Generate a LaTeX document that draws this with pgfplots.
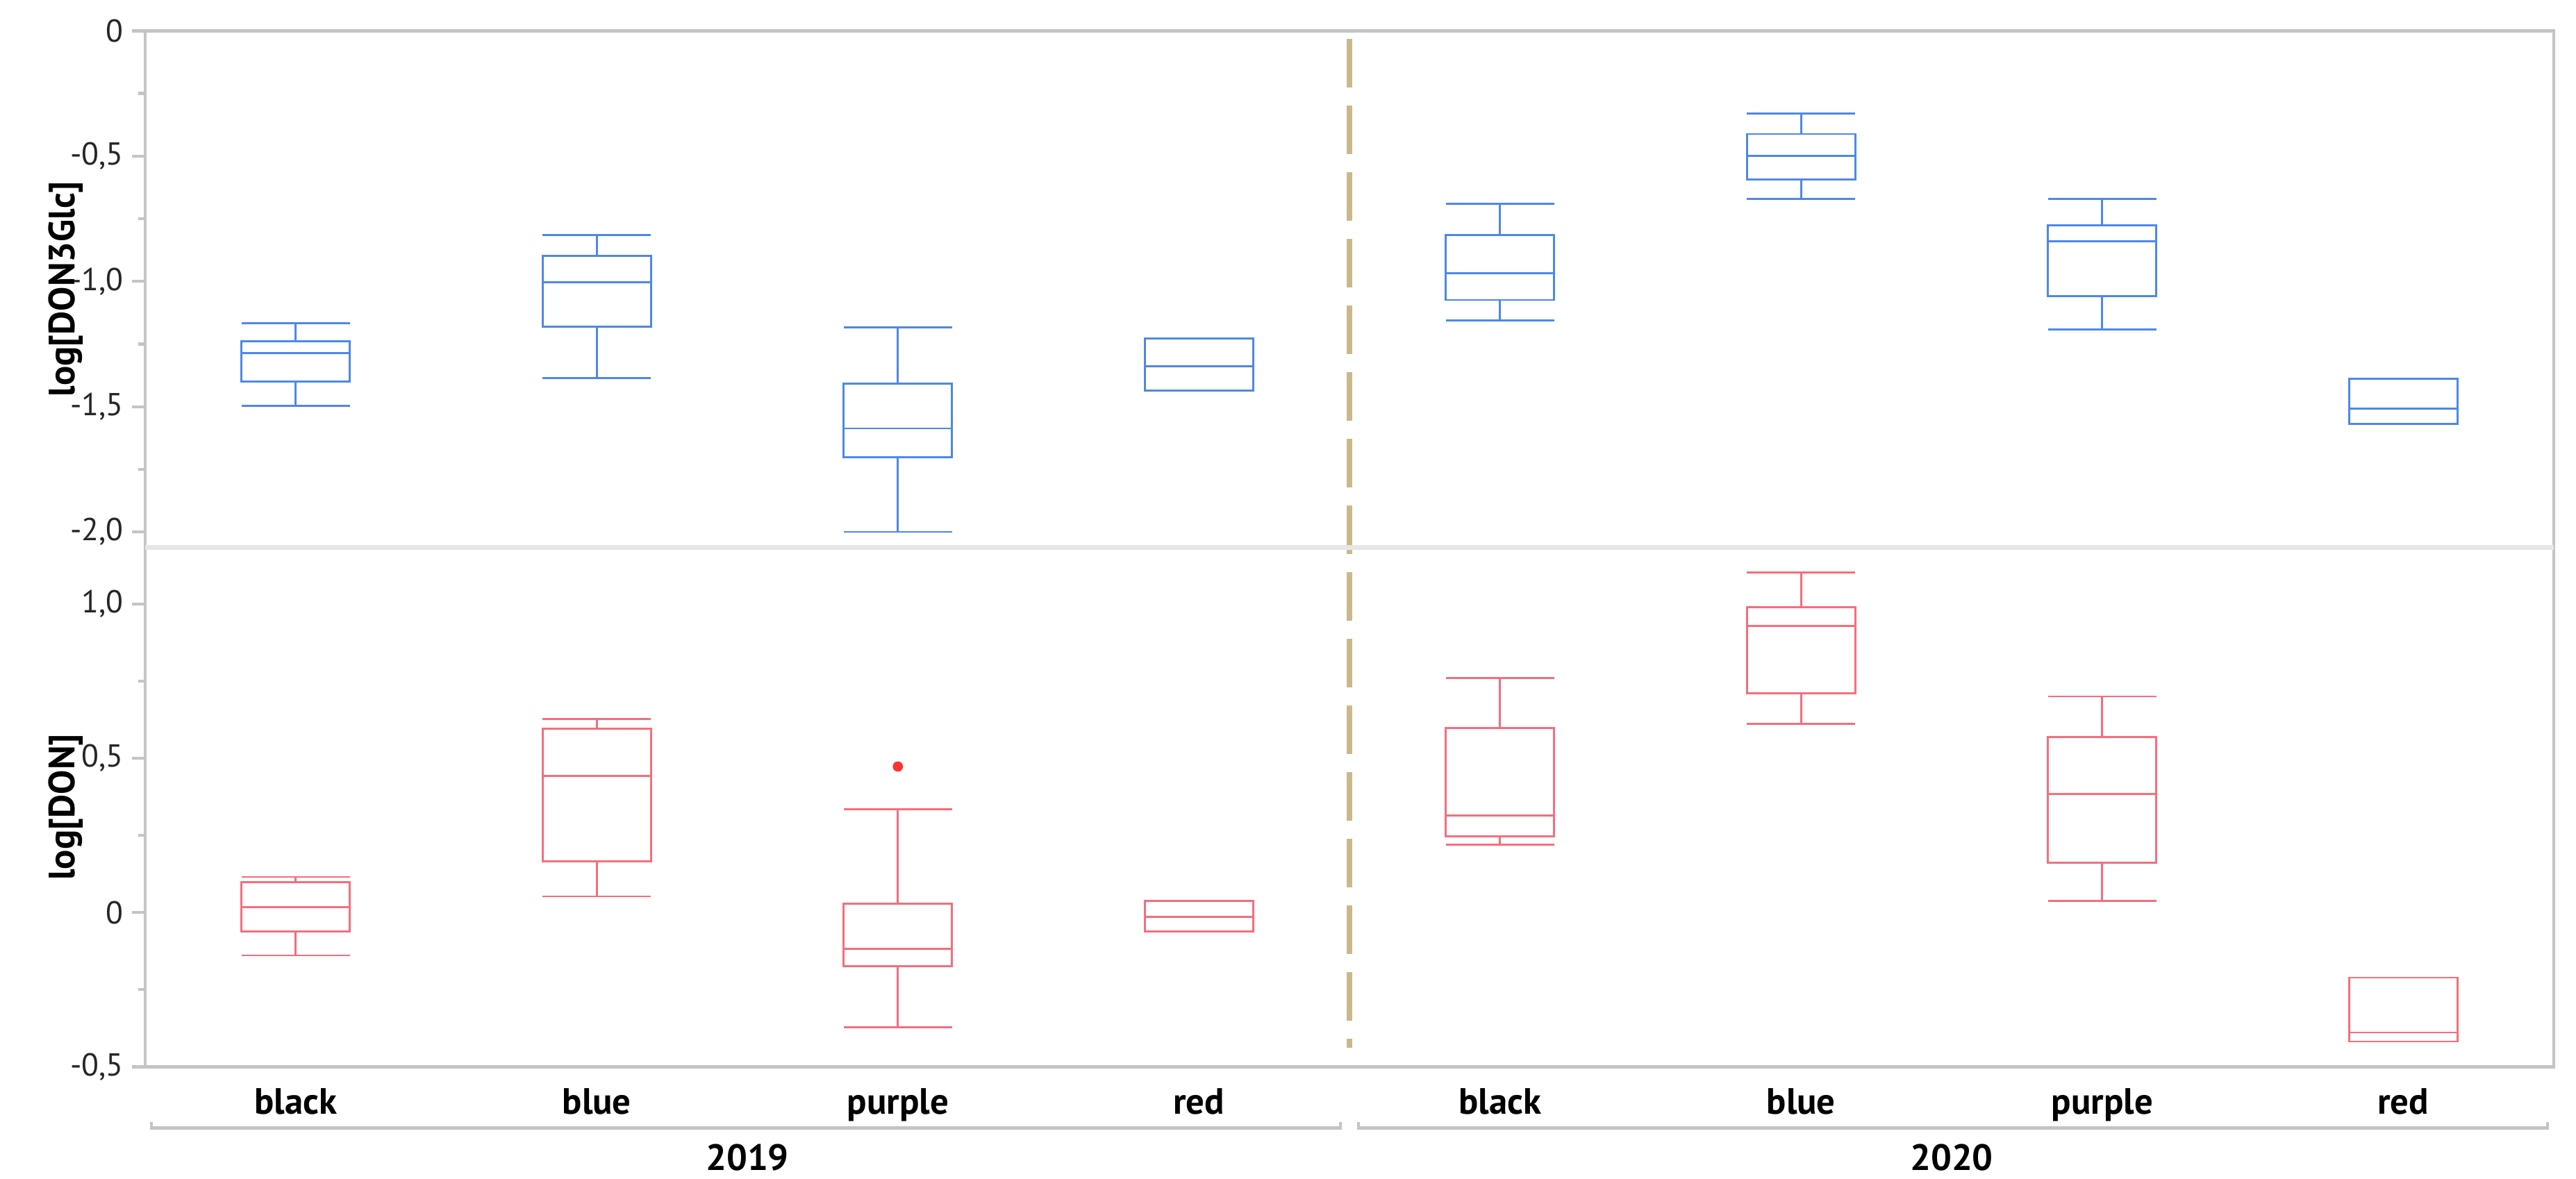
\documentclass[border=0pt]{standalone}
\usepackage{pgfplots}
\pgfplotsset{compat=1.18}
\usepgfplotslibrary{statistics}
\usepackage{fontspec}
\setmainfont{PT Sans}
\definecolor{cblue}{HTML}{4D88E8}
\definecolor{cred}{HTML}{F56E7D}
\definecolor{cdiv}{HTML}{C8B98C}
\definecolor{cframe}{HTML}{C4C4C4}
\definecolor{csep}{HTML}{E6E6E6}
\pgfplotsset{
  panel/.style={
    scale only axis, width=34.68cm,
    xmin=0, xmax=8,
    axis line style={draw=cframe, line width=1.2pt},
    tick align=outside, ytick pos=left,
    major tick length=0.19cm, minor tick length=0.1cm,
    y tick style={draw=cframe, line width=1.2pt},
    minor y tick num=1,
    x tick style={draw=none},
    tick label style={font=\fontsize{13}{15}\selectfont, text=black!85},
    ylabel style={font=\fontsize{15}{18}\selectfont\bfseries, at={(axis description cs:-0.0329,0.5)}, anchor=center},
    clip=false,
    boxplot/draw direction=y,
    boxplot/box extend=0.36, boxplot/whisker extend=0.36,
  },
  bb/.style={cblue, line width=0.8pt, solid},
  rb/.style={cred, line width=0.8pt, solid},
}
\begin{document}
\begin{tikzpicture}
\useasboundingbox (0,0) rectangle (37.09cm,-16.97cm);
% ---------- top panel: log[DON3Glc]
\begin{axis}[panel, name=top, at={(2.09cm,-0.444cm)}, anchor=north west,
  height=7.44cm, ymin=-2.062, ymax=0,
  ytick={-2,-1.5,-1,-0.5,0},
  yticklabels={{-2,0},{-1,5},{-1,0},{-0,5},{0}},
  xtick={0.5,1.5,2.5,3.5,4.5,5.5,6.5,7.5}, xticklabels={},
  ylabel={log[DON3Glc]}]
\addplot[bb, boxplot prepared={draw position=0.5, lower whisker=-1.496, lower quartile=-1.399, median=-1.287, upper quartile=-1.239, upper whisker=-1.167}] coordinates {};
\addplot[bb, boxplot prepared={draw position=1.5, lower whisker=-1.387, lower quartile=-1.181, median=-1.003, upper quartile=-0.899, upper whisker=-0.814}] coordinates {};
\addplot[bb, boxplot prepared={draw position=2.5, lower whisker=-2.000, lower quartile=-1.703, median=-1.587, upper quartile=-1.409, upper whisker=-1.183}] coordinates {};
\addplot[bb, boxplot prepared={draw position=3.5, lower whisker=-1.435, lower quartile=-1.435, median=-1.338, upper quartile=-1.229, upper whisker=-1.229}] coordinates {};
\addplot[bb, boxplot prepared={draw position=4.5, lower whisker=-1.157, lower quartile=-1.074, median=-0.967, upper quartile=-0.814, upper whisker=-0.691}] coordinates {};
\addplot[bb, boxplot prepared={draw position=5.5, lower whisker=-0.670, lower quartile=-0.593, median=-0.500, upper quartile=-0.412, upper whisker=-0.329}] coordinates {};
\addplot[bb, boxplot prepared={draw position=6.5, lower whisker=-1.191, lower quartile=-1.058, median=-0.841, upper quartile=-0.777, upper whisker=-0.671}] coordinates {};
\addplot[bb, boxplot prepared={draw position=7.5, lower whisker=-1.568, lower quartile=-1.568, median=-1.509, upper quartile=-1.388, upper whisker=-1.388}] coordinates {};
\end{axis}
% ---------- bottom panel: log[DON]
\begin{axis}[panel, name=bot, at={(top.south west)}, anchor=north west,
  height=7.48cm, ymin=-0.5, ymax=1.183,
  ytick={-0.5,0,0.5,1},
  yticklabels={{-0,5},{0},{0,5},{1,0}},
  xtick={0.5,1.5,2.5,3.5,4.5,5.5,6.5,7.5},
  xticklabels={black,blue,purple,red,black,blue,purple,red},
  x tick label style={font=\fontsize{15}{18}\selectfont\bfseries, text=black},
  extra x ticks={2,6}, extra x tick labels={2019,2020},
  extra x tick style={x tick label style={yshift=-0.80cm}},
  ylabel={log[DON]}]
\addplot[rb, boxplot prepared={draw position=0.5, lower whisker=-0.139, lower quartile=-0.061, median=0.018, upper quartile=0.098, upper whisker=0.115}] coordinates {};
\addplot[rb, boxplot prepared={draw position=1.5, lower whisker=0.052, lower quartile=0.166, median=0.443, upper quartile=0.596, upper whisker=0.627}] coordinates {};
\addplot[rb, boxplot prepared={draw position=2.5, lower whisker=-0.372, lower quartile=-0.174, median=-0.117, upper quartile=0.029, upper whisker=0.335}] coordinates {};
\addplot[rb, boxplot prepared={draw position=3.5, lower whisker=-0.061, lower quartile=-0.061, median=-0.014, upper quartile=0.037, upper whisker=0.037}] coordinates {};
\addplot[rb, boxplot prepared={draw position=4.5, lower whisker=0.219, lower quartile=0.246, median=0.314, upper quartile=0.598, upper whisker=0.759}] coordinates {};
\addplot[rb, boxplot prepared={draw position=5.5, lower whisker=0.611, lower quartile=0.710, median=0.928, upper quartile=0.990, upper whisker=1.102}] coordinates {};
\addplot[rb, boxplot prepared={draw position=6.5, lower whisker=0.037, lower quartile=0.161, median=0.384, upper quartile=0.569, upper whisker=0.700}] coordinates {};
\addplot[rb, boxplot prepared={draw position=7.5, lower whisker=-0.418, lower quartile=-0.418, median=-0.389, upper quartile=-0.211, upper whisker=-0.211}] coordinates {};
% outlier
\addplot[only marks, mark=*, color=red!80!white, mark size=1.9pt] coordinates {(2.5,0.473)};
% divider between years (spans both panels)
\addplot[cdiv, line width=2pt, dash pattern=on 0.7cm off 0.26cm] coordinates {(4,2.832) (4,-0.439)};
% separator between panels
\draw[csep, line width=2.2pt] (rel axis cs:0,1) -- (rel axis cs:1,1);
% year brackets
\draw[cframe, line width=1.2pt] ([yshift=-0.80cm]axis cs:0.02,-0.5) -- ([yshift=-0.88cm]axis cs:0.02,-0.5) -- ([yshift=-0.88cm]axis cs:3.97,-0.5) -- ([yshift=-0.80cm]axis cs:3.97,-0.5);
\draw[cframe, line width=1.2pt] ([yshift=-0.80cm]axis cs:4.03,-0.5) -- ([yshift=-0.88cm]axis cs:4.03,-0.5) -- ([yshift=-0.88cm]axis cs:7.98,-0.5) -- ([yshift=-0.80cm]axis cs:7.98,-0.5);
\end{axis}
\end{tikzpicture}
\end{document}
